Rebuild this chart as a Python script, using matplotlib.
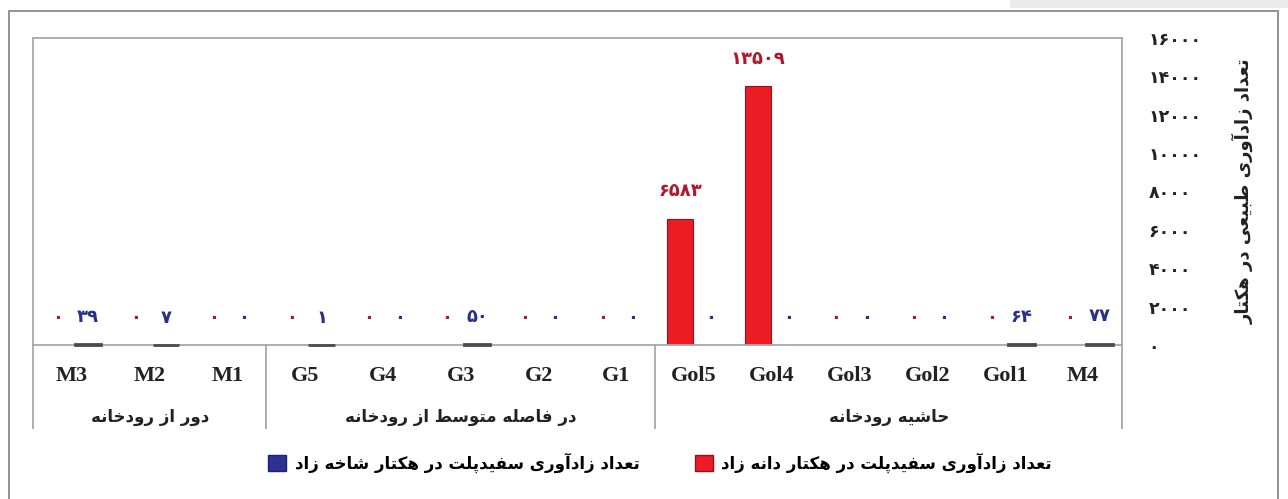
import numpy as np
import matplotlib
matplotlib.use("Agg")
import matplotlib.pyplot as plt
from matplotlib.patches import Patch, Rectangle
import matplotlib.transforms as mtransforms

# ── data ──────────────────────────────────────────────────────────────────────
categories = ["M3", "M2", "M1", "G5", "G4", "G3", "G2", "G1",
              "Gol5", "Gol4", "Gol3", "Gol2", "Gol1", "M4"]
group_names = ["دور از رودخانه", "در فاصله متوسط از رودخانه", "حاشیه رودخانه"]
group_sizes = [3, 5, 6]
seed_vals = [0, 0, 0, 0, 0, 0, 0, 0, 6583, 13509, 0, 0, 0, 0]
sprout_vals = [39, 7, 0, 1, 0, 50, 0, 0, 0, 0, 0, 0, 64, 77]
y_ticks = [0, 2000, 4000, 6000, 8000, 10000, 12000, 14000, 16000]
y_label = "تعداد زادآوری طبیعی در هکتار"
seed_label = "تعداد زادآوری سفیدپلت در هکتار دانه زاد"
sprout_label = "تعداد زادآوری سفیدپلت در هکتار شاخه زاد"

# ── minimal persian shaping (matplotlib has no RTL / joining) ────────────────
# letter: (isolated, final, initial, medial)
FORMS = {
    'ا': ('\uFE8D', '\uFE8E', None, None),
    'آ': ('\uFE81', '\uFE82', None, None),
    'ب': ('\uFE8F', '\uFE90', '\uFE91', '\uFE92'),
    'پ': ('\uFB56', '\uFB57', '\uFB58', '\uFB59'),
    'ت': ('\uFE95', '\uFE96', '\uFE97', '\uFE98'),
    'ح': ('\uFEA1', '\uFEA2', '\uFEA3', '\uFEA4'),
    'خ': ('\uFEA5', '\uFEA6', '\uFEA7', '\uFEA8'),
    'د': ('\uFEA9', '\uFEAA', None, None),
    'ر': ('\uFEAD', '\uFEAE', None, None),
    'ز': ('\uFEAF', '\uFEB0', None, None),
    'س': ('\uFEB1', '\uFEB2', '\uFEB3', '\uFEB4'),
    'ش': ('\uFEB5', '\uFEB6', '\uFEB7', '\uFEB8'),
    'ص': ('\uFEB9', '\uFEBA', '\uFEBB', '\uFEBC'),
    'ط': ('\uFEC1', '\uFEC2', '\uFEC3', '\uFEC4'),
    'ع': ('\uFEC9', '\uFECA', '\uFECB', '\uFECC'),
    'ف': ('\uFED1', '\uFED2', '\uFED3', '\uFED4'),
    'ک': ('\uFB8E', '\uFB8F', '\uFB90', '\uFB91'),
    'ل': ('\uFEDD', '\uFEDE', '\uFEDF', '\uFEE0'),
    'م': ('\uFEE1', '\uFEE2', '\uFEE3', '\uFEE4'),
    'ن': ('\uFEE5', '\uFEE6', '\uFEE7', '\uFEE8'),
    'ه': ('\uFEE9', '\uFEEA', '\uFEEB', '\uFEEC'),
    'و': ('\uFEED', '\uFEEE', None, None),
    'ی': ('\uFBFC', '\uFBFD', '\uFBFE', '\uFBFF'),
}


def fa(text):
    out = []
    for i, c in enumerate(text):
        if c not in FORMS:
            out.append(c)
            continue
        iso, fin, ini, med = FORMS[c]
        prev = text[i - 1] if i > 0 else None
        nxt = text[i + 1] if i + 1 < len(text) else None
        jp = prev in FORMS and FORMS[prev][2] is not None
        jn = ini is not None and nxt in FORMS
        if jp and jn:
            out.append(med)
        elif jp:
            out.append(fin)
        elif jn:
            out.append(ini)
        else:
            out.append(iso)
    return ''.join(out)[::-1]


def fa_num(n):
    return str(n).translate(str.maketrans("0123456789", "۰۱۲۳۴۵۶۷۸۹"))


# ── figure ────────────────────────────────────────────────────────────────────
W, H = 1288, 499
fig = plt.figure(figsize=(W / 100, H / 100), dpi=100, facecolor="white")
ax = fig.add_axes([33 / W, 1 - 345 / H, (1122 - 33) / W, (345 - 38) / H])

RED, RED_EDGE = "#ED1C24", "#8E1418"
BLUE, BLUE_EDGE = "#2E3192", "#4A4A55"
RED_TXT, BLUE_TXT = "#B0182E", "#2B2F8C"
GRID = "#A8A8A8"

x = np.arange(len(categories))
w = 0.34
red_x = x - 0.18
blue_x = x + 0.21
ax.bar(red_x, seed_vals, w, color=RED, edgecolor=RED_EDGE, linewidth=0.8)
# tiny sprout bars show up only as their outline, as in the original
blue_edges = [BLUE_EDGE if v > 0 else "none" for v in sprout_vals]
ax.bar(blue_x, sprout_vals, w, color=BLUE, edgecolor=blue_edges, linewidth=2.0,
       zorder=3, clip_on=False)

for xs, vals, col in [(red_x, seed_vals, RED_TXT), (blue_x, sprout_vals, BLUE_TXT)]:
    for xi, v in zip(xs, vals):
        ax.annotate(fa_num(v), (xi, v), xytext=(0, 16), textcoords="offset points",
                    ha="center", va="baseline", fontsize=13, fontweight="bold",
                    color=col, family="DejaVu Sans")

ax.set_xlim(-0.5, len(categories) - 0.5)
ax.set_ylim(0, 16000)
ax.set_xticks(x)
ax.set_xticklabels(categories, family="Liberation Serif", fontweight="bold",
                   fontsize=16, color="#222222")
ax.tick_params(axis="x", length=0, pad=15)

ax.yaxis.tick_right()
ax.set_yticks(y_ticks)
ax.set_yticklabels([fa_num(t) for t in y_ticks], family="DejaVu Sans",
                   fontweight="bold", fontsize=12.5, color="#222222")
ax.tick_params(axis="y", length=0, pad=19)
ax.set_ylabel(fa(y_label), rotation=90, family="DejaVu Sans", fontweight="bold",
              fontsize=13, color="#222222", ha="center", va="center")
ax.yaxis.set_label_coords((1243 - 33) / (1122 - 33), 0.5)

for s in ax.spines.values():
    s.set_color(GRID)
    s.set_linewidth(1.3)

# category table under the axis
trans = mtransforms.blended_transform_factory(ax.transData, ax.transAxes)
bounds = np.concatenate([[0], np.cumsum(group_sizes)]) - 0.5
for b in bounds:
    ax.plot([b, b], [0, -0.27], transform=trans, color=GRID, lw=1.3, clip_on=False)
for i, name in enumerate(group_names):
    mid = (bounds[i] + bounds[i + 1]) / 2
    ax.text(mid, -0.235, fa(name), transform=trans, ha="center", va="center",
            family="DejaVu Sans", fontweight="bold", fontsize=12, color="#222222")

# legend
handles = [Patch(facecolor=BLUE, edgecolor="#1E2270", label=fa(sprout_label)),
           Patch(facecolor=RED, edgecolor=RED_EDGE, label=fa(seed_label))]
fig.legend(handles=handles, loc="center", bbox_to_anchor=(660 / W, 1 - 463 / H),
           ncol=2, frameon=False, handlelength=1.1, handleheight=1.1,
           handletextpad=0.5, columnspacing=3.3, borderpad=0,
           prop={"family": "DejaVu Sans", "weight": "bold", "size": 12})

# outer frame and top strip
fig.add_artist(Rectangle((9 / W, -0.05), (1278 - 9) / W, 1.05 - 11 / H,
                         transform=fig.transFigure, fill=False,
                         edgecolor="#8A8A8A", lw=1.3))
fig.add_artist(Rectangle((1010 / W, 1 - 8 / H), 1 - 1010 / W, 8 / H,
                         transform=fig.transFigure, color="#EBEBEB", lw=0))

fig.savefig("out.png", dpi=100, facecolor="white")
